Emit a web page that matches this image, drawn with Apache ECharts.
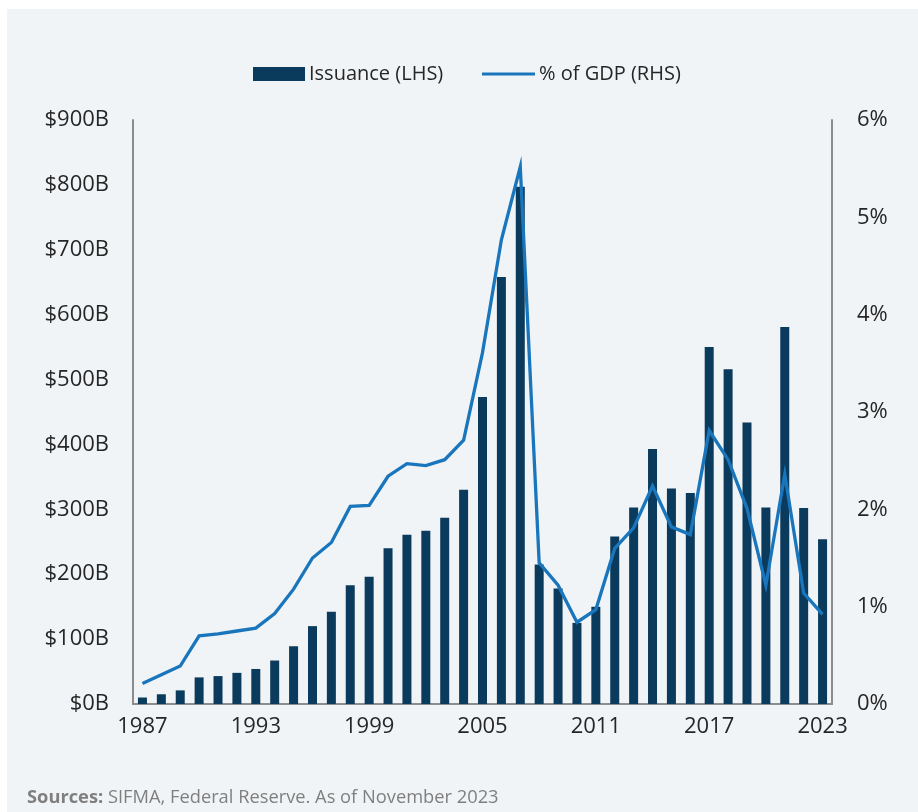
<!DOCTYPE html>
<html>
<head>
<meta charset="utf-8">
<script src="https://cdn.jsdelivr.net/npm/echarts@6/dist/echarts.min.js"></script>
<style>
  html, body { margin: 0; padding: 0; background: #ffffff; }
  #chart { width: 918px; height: 812px; }
</style>
</head>
<body>
<div id="chart"></div>
<script>
// Municipal issuance by year and as a share of GDP
const years = ['1987','1988','1989','1990','1991','1992','1993','1994','1995','1996',
  '1997','1998','1999','2000','2001','2002','2003','2004','2005','2006','2007','2008',
  '2009','2010','2011','2012','2013','2014','2015','2016','2017','2018','2019','2020',
  '2021','2022','2023'];

// Issuance, $ billions (left axis)
const issuance = [10, 15, 21, 41, 43, 48, 54, 67, 89, 120,
  142, 183, 196, 240, 261, 267, 287, 330, 473, 658, 797, 215,
  178, 125, 150, 258, 303, 393, 332, 325, 550, 516, 434, 303,
  581, 302, 254];

// Issuance as % of GDP (right axis)
const pctGdp = [0.21, 0.30, 0.39, 0.70, 0.72, 0.75, 0.78, 0.93, 1.18, 1.50,
  1.66, 2.03, 2.04, 2.34, 2.47, 2.45, 2.51, 2.71, 3.61, 4.77, 5.52, 1.45,
  1.22, 0.84, 0.97, 1.60, 1.81, 2.24, 1.82, 1.74, 2.81, 2.51, 2.01, 1.22,
  2.36, 1.14, 0.92];

const leftTicks = { min: 0, max: 900, interval: 100 };
const rightTicks = { min: 0, max: 6, interval: 1 };

const BAR_COLOR = '#0a3a5c';
const LINE_COLOR = '#1a76bc';
const AXIS_COLOR = '#8c8c8c';
const TEXT_COLOR = '#262626';
const FONT = '"Open Sans", "Noto Sans", sans-serif';

const chart = echarts.init(document.getElementById('chart'), null, { renderer: 'canvas' });

chart.setOption({
  backgroundColor: '#ffffff',
  animation: false,
  textStyle: { fontFamily: FONT },
  graphic: [
    {
      type: 'rect',
      left: 7, top: 9,
      shape: { width: 911, height: 803 },
      style: { fill: '#f1f4f6' },
      z: -10
    },
    {
      type: 'text',
      left: 27, top: 789,
      style: {
        text: '{b|Sources:} SIFMA, Federal Reserve. As of November 2023',
        rich: {
          b: { fontWeight: 'bold', fontSize: 18.3, fill: '#7f7f7f', fontFamily: FONT }
        },
        fontSize: 18.3,
        fill: '#7f7f7f',
        fontFamily: FONT
      }
    }
  ],
  legend: [
    {
      data: ['Issuance (LHS)'],
      left: 253, top: 64,
      padding: 0,
      icon: 'rect',
      itemWidth: 52, itemHeight: 14,
      textStyle: { fontSize: 20, color: TEXT_COLOR, fontFamily: FONT, padding: [0, 0, 0, -1] }
    },
    {
      data: ['% of GDP (RHS)'],
      left: 482, top: 64,
      padding: 0,
      icon: 'rect',
      itemWidth: 53, itemHeight: 3,
      textStyle: { fontSize: 20, color: TEXT_COLOR, fontFamily: FONT, padding: [0, 0, 0, -1] }
    }
  ],
  grid: { left: 133, right: 86, top: 120, bottom: 108, containLabel: false },
  xAxis: {
    type: 'category',
    data: years,
    boundaryGap: true,
    axisLine: { show: true, lineStyle: { color: AXIS_COLOR, width: 2 } },
    axisTick: { show: false },
    axisLabel: {
      interval: 5,
      color: TEXT_COLOR,
      fontSize: 22,
      margin: 12,
      fontFamily: FONT
    },
    splitLine: { show: false }
  },
  yAxis: [
    {
      type: 'value',
      position: 'left',
      min: leftTicks.min, max: leftTicks.max, interval: leftTicks.interval,
      axisLine: { show: true, lineStyle: { color: AXIS_COLOR, width: 2 } },
      axisTick: { show: false },
      splitLine: { show: false },
      axisLabel: {
        color: TEXT_COLOR, fontSize: 22, margin: 24, fontFamily: FONT,
        formatter: v => '$' + v + 'B'
      }
    },
    {
      type: 'value',
      position: 'right',
      min: rightTicks.min, max: rightTicks.max, interval: rightTicks.interval,
      axisLine: { show: true, lineStyle: { color: AXIS_COLOR, width: 2 } },
      axisTick: { show: false },
      splitLine: { show: false },
      axisLabel: {
        color: TEXT_COLOR, fontSize: 22, margin: 25, fontFamily: FONT,
        formatter: v => v + '%'
      }
    }
  ],
  series: [
    {
      name: 'Issuance (LHS)',
      type: 'bar',
      yAxisIndex: 0,
      data: issuance,
      barWidth: 9,
      itemStyle: { color: BAR_COLOR },
      z: 2
    },
    {
      name: '% of GDP (RHS)',
      type: 'line',
      yAxisIndex: 1,
      data: pctGdp,
      showSymbol: false,
      symbol: 'none',
      lineStyle: { color: LINE_COLOR, width: 3.3, join: 'miter' },
      itemStyle: { color: LINE_COLOR },
      z: 3
    }
  ]
});
</script>
</body>
</html>
